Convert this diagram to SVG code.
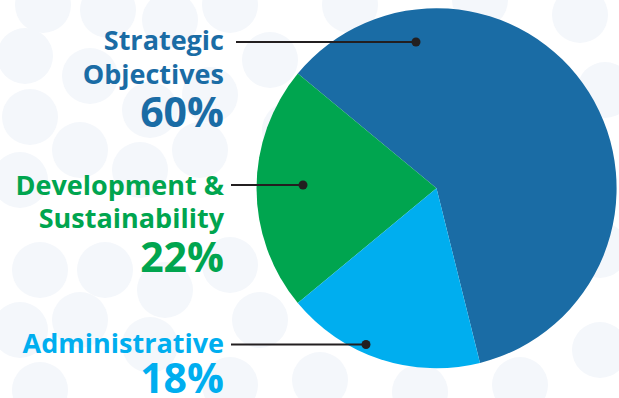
<svg xmlns="http://www.w3.org/2000/svg" width="619" height="398" viewBox="0 0 619 398">
<style>
.bg{fill:#f4f7fb}
.lbl{font-family:"Open Sans","Liberation Sans",sans-serif;font-weight:700;text-anchor:end}
.name{font-size:27px}
.pct{font-size:41px}
.lead{stroke:#231f20;stroke-width:2;fill:none}
.dot{fill:#231f20}
</style>
<rect width="619" height="398" fill="#ffffff"/>
<g id="background">
<circle class="bg" cx="43" cy="5" r="28"/><circle class="bg" cx="108" cy="10" r="28"/><circle class="bg" cx="25" cy="56" r="28"/><circle class="bg" cx="90" cy="76" r="28"/><circle class="bg" cx="30" cy="117" r="28"/>
<circle class="bg" cx="170" cy="20" r="28"/><circle class="bg" cx="230" cy="5" r="28"/><circle class="bg" cx="150" cy="110" r="28"/><circle class="bg" cx="210" cy="95" r="28"/><circle class="bg" cx="270" cy="60" r="28"/>
<circle class="bg" cx="80" cy="150" r="28"/><circle class="bg" cx="140" cy="170" r="28"/><circle class="bg" cx="200" cy="150" r="28"/><circle class="bg" cx="20" cy="180" r="28"/>
<circle class="bg" cx="40" cy="270" r="28"/><circle class="bg" cx="105" cy="270" r="28"/><circle class="bg" cx="165" cy="290" r="28"/><circle class="bg" cx="230" cy="265" r="28"/><circle class="bg" cx="20" cy="330" r="28"/>
<circle class="bg" cx="80" cy="320" r="28"/><circle class="bg" cx="150" cy="345" r="28"/><circle class="bg" cx="260" cy="320" r="28"/><circle class="bg" cx="40" cy="390" r="28"/><circle class="bg" cx="230" cy="385" r="28"/>
<circle class="bg" cx="320" cy="380" r="28"/><circle class="bg" cx="420" cy="392" r="28"/><circle class="bg" cx="520" cy="385" r="28"/><circle class="bg" cx="600" cy="350" r="28"/><circle class="bg" cx="600" cy="250" r="28"/>
<circle class="bg" cx="605" cy="90" r="28"/><circle class="bg" cx="580" cy="15" r="28"/><circle class="bg" cx="480" cy="0" r="28"/><circle class="bg" cx="350" cy="5" r="28"/><circle class="bg" cx="290" cy="130" r="28"/>
</g>
<g id="pie">
<path id="slice-strategic" d="M436.5,188.3 L297.8,73.6 A180,180 0 1,1 480,362.9 Z" fill="#1a6ca5"/>
<path id="slice-development" d="M436.5,188.3 L297.8,303 A180,180 0 0,1 297.8,73.6 Z" fill="#00a54f"/>
<path id="slice-administrative" d="M436.5,188.3 L480,362.9 A180,180 0 0,1 297.8,303 Z" fill="#00aeef"/>
</g>
<g id="connectors">
<line class="lead" x1="236" y1="42" x2="416" y2="42"/><circle class="dot" cx="416" cy="42" r="4.5"/>
<line class="lead" x1="231" y1="185" x2="303" y2="185"/><circle class="dot" cx="303" cy="185" r="4.5"/>
<line class="lead" x1="231" y1="344.5" x2="366" y2="344.5"/><circle class="dot" cx="366" cy="344.5" r="4.5"/>
</g>
<g id="label-strategic" class="lbl" fill="#1a6ca5">
<text class="name" x="224" y="50">Strategic</text>
<text class="name" x="224" y="84">Objectives</text>
<text class="pct" x="224" y="127">60%</text>
</g>
<g id="label-development" class="lbl" fill="#00a54f">
<text class="name" x="224" y="195">Development &amp;</text>
<text class="name" x="224" y="228">Sustainability</text>
<text class="pct" x="224" y="272">22%</text>
</g>
<g id="label-administrative" class="lbl" fill="#00aeef">
<text class="name" x="224" y="353">Administrative</text>
<text class="pct" x="224" y="393">18%</text>
</g>
</svg>
